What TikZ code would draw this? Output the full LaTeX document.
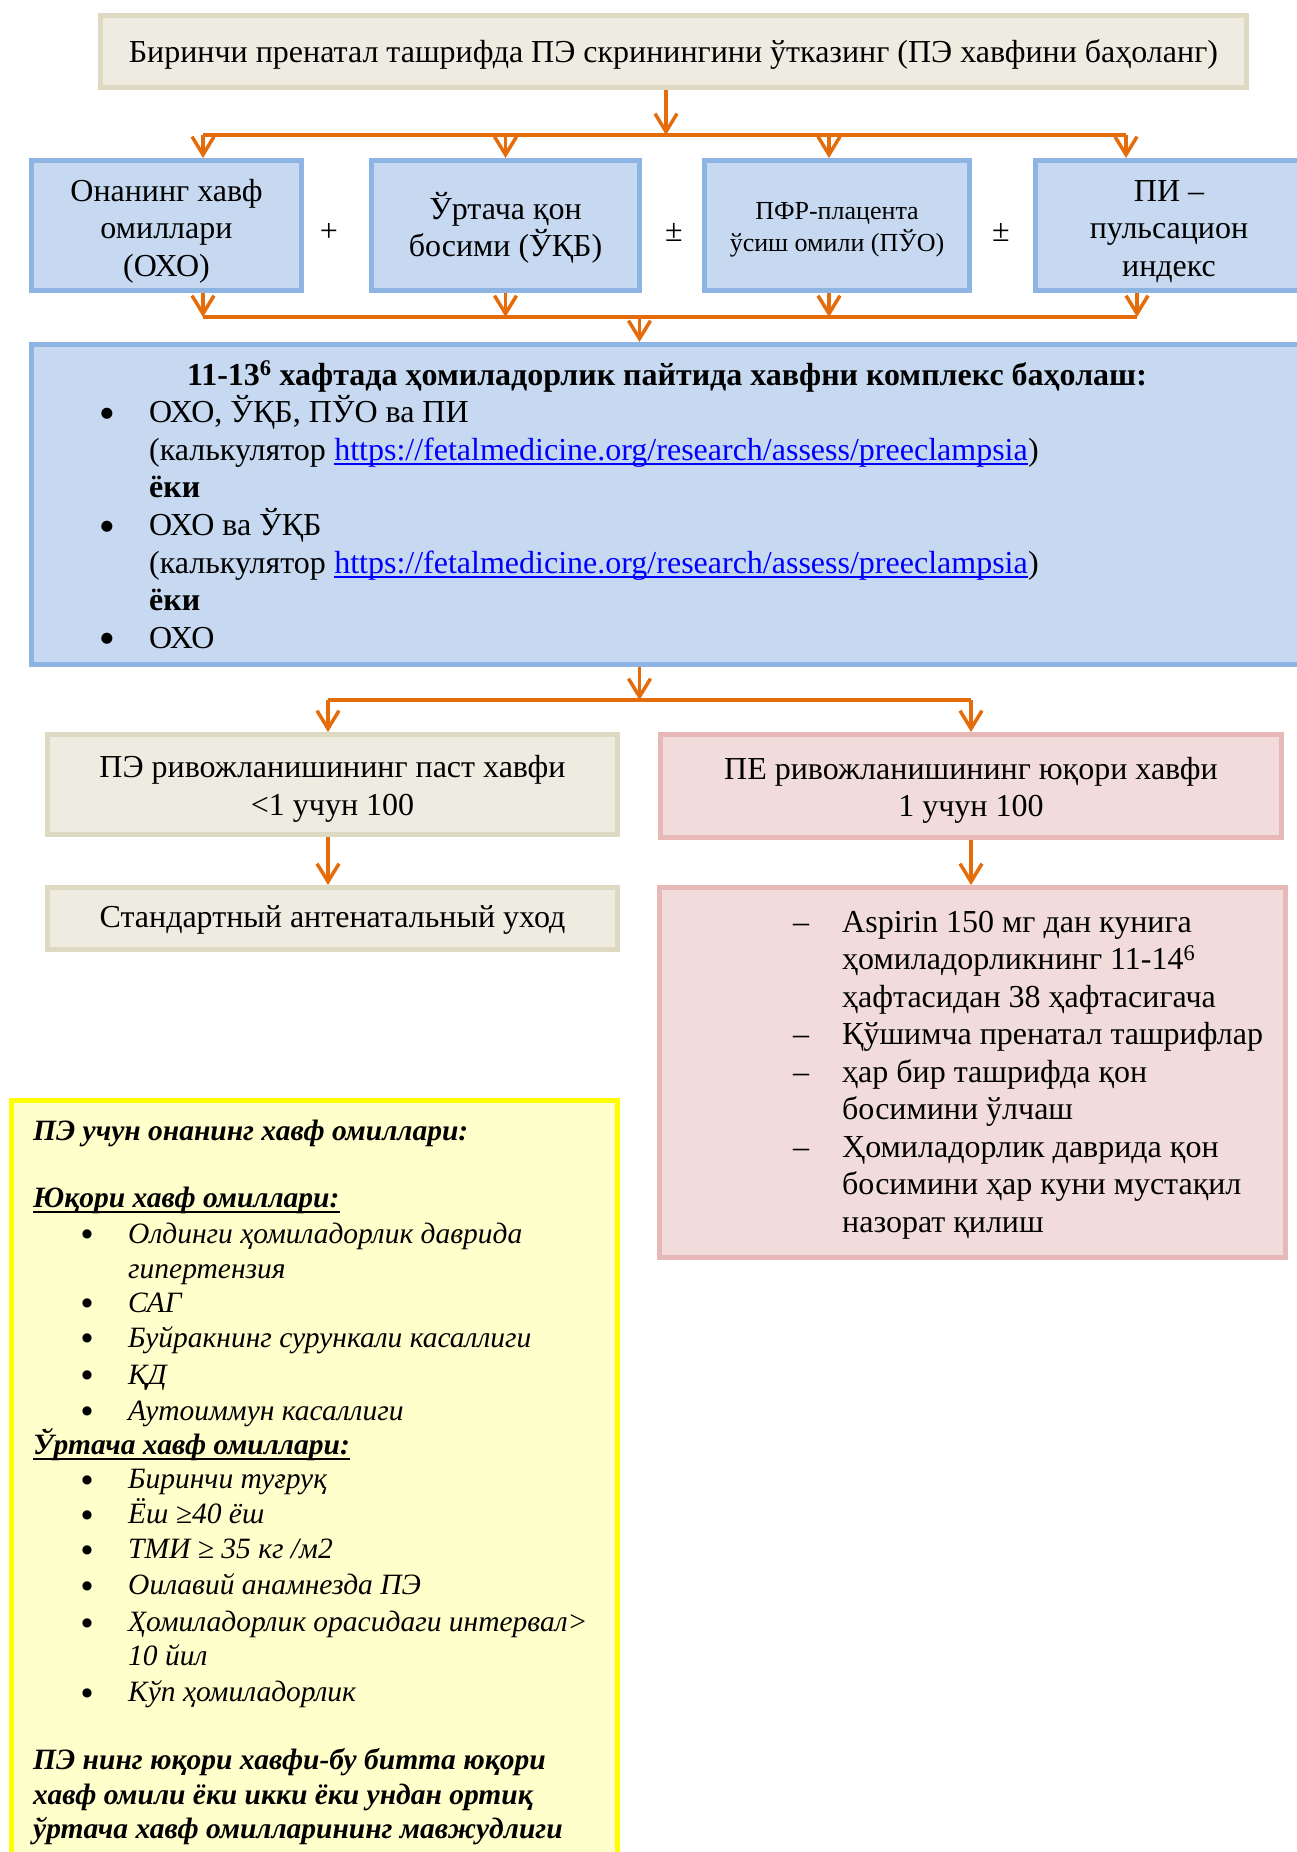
\documentclass[tikz,border=0pt]{standalone}
\usepackage{fontspec}
\setmainfont{Liberation Serif}
\newfontfamily\bulfont{DejaVu Sans}
\usetikzlibrary{arrows.meta,calc}
\definecolor{bluefill}{HTML}{C6D9F1}
\definecolor{blueline}{HTML}{8EB4E3}
\definecolor{beigefill}{HTML}{EEECE1}
\definecolor{beigeline}{HTML}{DDD9C3}
\definecolor{pinkfill}{HTML}{F2DCDB}
\definecolor{pinkline}{HTML}{E6B9B8}
\definecolor{yelfill}{HTML}{FFFFCC}
\definecolor{yelline}{HTML}{FFFF00}
\definecolor{arrcol}{HTML}{E46C0A}
\definecolor{linkcol}{HTML}{0000FF}
\newcommand{\mainsize}{\fontsize{32}{37.5}\selectfont}
\newcommand{\boxthreesize}{\fontsize{26}{32}\selectfont}
\newcommand{\yelsize}{\fontsize{29.5}{35}\selectfont}
\newcommand{\bigbulsize}{\bulfont\fontsize{14.5}{15}\selectfont}
\newcommand{\yelbulsize}{\bulfont\fontsize{12}{13}\selectfont}
\begin{document}
\begin{tikzpicture}[x=1pt,y=-1pt,
  box/.style={draw, line width=5pt, inner sep=0pt},
  bluebox/.style={box, draw=blueline, fill=bluefill},
  beigebox/.style={box, draw=beigeline, fill=beigefill},
  pinkbox/.style={box, draw=pinkline, fill=pinkfill},
  yelbox/.style={box, draw=yelline, fill=yelfill},
  boxtext/.style={inner sep=0pt, align=center, font=\mainsize},
  arr/.style={draw=arrcol, line width=3.5pt, -{Straight Barb[length=18pt,width=22pt]}},
  busline/.style={draw=arrcol, line width=3.5pt},
  txt/.style={inner sep=0pt, anchor=base west, font=\mainsize},
  ctxt/.style={inner sep=0pt, anchor=base, font=\mainsize},
  bigbul/.style={inner sep=0pt, anchor=base, font=\bigbulsize},
  lnktxt/.style={txt, text=linkcol},
  ytxt/.style={inner sep=0pt, anchor=base west, font=\yelsize\itshape},
  yhead/.style={ytxt, font=\yelsize\bfseries\itshape},
  ybul/.style={inner sep=0pt, anchor=base, font=\yelbulsize},
  lnkul/.style={draw=linkcol, line width=1.8pt},
  headul/.style={draw=black, line width=2.6pt},
]
\useasboundingbox (0,0) rectangle (1297,1852);
\clip (0,0) rectangle (1297,1852);

% column coordinates
\coordinate (xa) at (203,0);
\coordinate (xb) at (505.5,0);
\coordinate (xc) at (829,0);
\coordinate (xd) at (1126,0);
\coordinate (xdd) at (1137,0);
\coordinate (xm) at (666,0);
\coordinate (xn) at (639.5,0);
\coordinate (xl) at (328,0);
\coordinate (xr) at (971,0);
\coordinate (busa) at (0,135);
\coordinate (busb) at (0,317);
\coordinate (busc) at (0,700);

% boxes
\node[beigebox, minimum width=1146pt, minimum height=72pt] (top) at (673.5,51.5) {};
\node[boxtext] (topt) at (673.5,54.5)
  {Биринчи пренатал ташрифда ПЭ скринингини ўтказинг (ПЭ хавфини баҳоланг)};
\node[bluebox, minimum width=270pt, minimum height=130pt] (b1) at (166.5,225.5) {};
\node[boxtext] (b1t) at (166.5,231) {Онанинг хавф\\омиллари\\(ОХО)};
\node[bluebox, minimum width=268pt, minimum height=130pt] (b2) at (505.5,225.5) {};
\node[boxtext] (b2t) at (505.5,228) {Ўртача қон\\босими (ЎҚБ)};
\node[bluebox, minimum width=265pt, minimum height=130pt] (b3) at (837,225.5) {};
\node[boxtext, font=\boxthreesize] (b3t) at (837,230) {ПФР-плацента\\ўсиш омили (ПЎО)};
\node[bluebox, minimum width=267pt, minimum height=130pt] (b4) at (1169,225.5) {};
\node[boxtext] (b4t) at (1169,231.5) {ПИ –\\пульсацион\\индекс};
\node[inner sep=0pt, font=\mainsize] (p1) at (329,232) {+};
\node[inner sep=0pt, font=\mainsize] (p2) at (674,232) {±};
\node[inner sep=0pt, font=\mainsize] (p3) at (1001,232) {±};

\node[bluebox, minimum width=1271pt, minimum height=320pt] (big) at (667,504.5) {};
\node[beigebox, minimum width=570pt, minimum height=100pt] (low) at (332.5,784.5) {};
\node[boxtext] (lowt) at (332.5,789) {ПЭ ривожланишининг паст хавфи\\<1 учун 100};
\node[pinkbox, minimum width=621pt, minimum height=103pt] (high) at (971,786) {};
\node[boxtext] (hight) at (971,790.5) {ПЕ ривожланишининг юқори хавфи\\1 учун 100};
\node[beigebox, minimum width=570pt, minimum height=62pt] (std) at (332.5,918.5) {};
\node[boxtext] (stdt) at (332.5,920) {Стандартный антенатальный уход};
\node[pinkbox, minimum width=626pt, minimum height=370pt] (rl) at (972.5,1072.5) {};
\node[yelbox, minimum width=606pt, minimum height=790pt] (yb) at (314.5,1495) {};

% connectors
\draw[arr] (xm |- top.south) -- (xm |- busa);
\draw[busline] (xa |- busa) -- (xd |- busa);
\draw[arr] (xa |- busa) -- (xa |- b1.north);
\draw[arr] (xb |- busa) -- (xb |- b2.north);
\draw[arr] (xc |- busa) -- (xc |- b3.north);
\draw[arr] (xd |- busa) -- (xd |- b4.north);
\draw[arr] (xa |- b1.south) -- (xa |- busb);
\draw[arr] (xb |- b2.south) -- (xb |- busb);
\draw[arr] (xc |- b3.south) -- (xc |- busb);
\draw[arr] (xdd |- b4.south) -- (xdd |- busb);
\draw[busline] (xa |- busb) -- (xdd |- busb);
\draw[arr] (xn |- busb) -- (xn |- big.north);
\draw[arr] (xn |- big.south) -- (xn |- busc);
\draw[busline] (xl |- busc) -- (xr |- busc);
\draw[arr] (xl |- busc) -- (xl |- low.north);
\draw[arr] (xr |- busc) -- (xr |- high.north);
\draw[arr] (xl |- low.south) -- (xl |- std.north);
\draw[arr] (xr |- high.south) -- (xr |- rl.north);

% big box text
\node[ctxt, font=\mainsize\bfseries] (g0) at (667,385) {11-13\textsuperscript{6} хафтада ҳомиладорлик пайтида хавфни комплекс баҳолаш:};
\node[bigbul] (gb1) at (107,417.2) {●};
\node[txt] (g1) at (149,422.6) {ОХО, ЎҚБ, ПЎО ва ПИ};
\node[txt] (g2) at (149,460.2) {(калькулятор};
\node[lnktxt] (g2l) at ($(g2.base east)+(8,0)$) {https://fetalmedicine.org/research/assess/preeclampsia};
\node[txt] (g2r) at (g2l.base east) {)};
\draw[lnkul] ($(g2l.base west)+(0,4)$) -- ($(g2l.base east)+(0,4)$);
\node[txt, font=\mainsize\bfseries] (g3) at (149,497.8) {ёки};
\node[bigbul] (gb2) at (107,530) {●};
\node[txt] (g4) at (149,535.4) {ОХО ва ЎҚБ};
\node[txt] (g5) at (149,573) {(калькулятор};
\node[lnktxt] (g5l) at ($(g5.base east)+(8,0)$) {https://fetalmedicine.org/research/assess/preeclampsia};
\node[txt] (g5r) at (g5l.base east) {)};
\draw[lnkul] ($(g5l.base west)+(0,4)$) -- ($(g5l.base east)+(0,4)$);
\node[txt, font=\mainsize\bfseries] (g6) at (149,610.6) {ёки};
\node[bigbul] (gb3) at (107,642.8) {●};
\node[txt] (g7) at (149,648.2) {ОХО};

% red list text
\node[ctxt] (rd1) at (801,932) {–};
\node[txt] (r1) at (842,932) {Aspirin 150 мг дан кунига};
\node[txt] (r2) at (842,969.5) {ҳомиладорликнинг 11-14\textsuperscript{6}};
\node[txt] (r3) at (842,1007) {ҳафтасидан 38 ҳафтасигача};
\node[ctxt] (rd2) at (801,1044.5) {–};
\node[txt] (r4) at (842,1044.5) {Қўшимча пренатал ташрифлар};
\node[ctxt] (rd3) at (801,1082) {–};
\node[txt] (r5) at (842,1082) {ҳар бир ташрифда қон};
\node[txt] (r6) at (842,1119.5) {босимини ўлчаш};
\node[ctxt] (rd4) at (801,1157) {–};
\node[txt] (r7) at (842,1157) {Ҳомиладорлик даврида қон};
\node[txt] (r8) at (842,1194.5) {босимини ҳар куни мустақил};
\node[txt] (r9) at (842,1232) {назорат қилиш};

% yellow box text
\node[yhead] (y0) at (33,1140) {ПЭ учун онанинг хавф омиллари:};
\node[yhead] (y1) at (33,1207) {Юқори хавф омиллари:};
\draw[headul] ($(y1.base west)+(0,5)$) -- ($(y1.base east)+(0,5)$);
\node[ybul] (yb1) at (87,1237.5) {●};
\node[ytxt] (y2) at (128,1243) {Олдинги ҳомиладорлик даврида};
\node[ytxt] (y3) at (128,1278) {гипертензия};
\node[ybul] (yb2) at (87,1306.5) {●};
\node[ytxt] (y4) at (128,1312) {САГ};
\node[ybul] (yb3) at (87,1341.5) {●};
\node[ytxt] (y5) at (128,1347) {Буйракнинг сурункали касаллиги};
\node[ybul] (yb4) at (87,1378.5) {●};
\node[ytxt] (y6) at (128,1384) {ҚД};
\node[ybul] (yb5) at (87,1414.5) {●};
\node[ytxt] (y7) at (128,1420) {Аутоиммун касаллиги};
\node[yhead] (y8) at (33,1454) {Ўртача хавф омиллари:};
\draw[headul] ($(y8.base west)+(0,5)$) -- ($(y8.base east)+(0,5)$);
\node[ybul] (yb6) at (87,1483) {●};
\node[ytxt] (y9) at (128,1488.5) {Биринчи туғруқ};
\node[ybul] (yb7) at (87,1518) {●};
\node[ytxt] (y10) at (128,1523.5) {Ёш ≥40 ёш};
\node[ybul] (yb8) at (87,1553) {●};
\node[ytxt] (y11) at (128,1558.5) {ТМИ ≥ 35 кг /м2};
\node[ybul] (yb9) at (87,1589) {●};
\node[ytxt] (y12) at (128,1594.5) {Оилавий анамнезда ПЭ};
\node[ybul] (yb10) at (87,1626) {●};
\node[ytxt] (y13) at (128,1631.5) {Ҳомиладорлик орасидаги интервал>};
\node[ytxt] (y14) at (128,1665.5) {10 йил};
\node[ybul] (yb11) at (87,1696) {●};
\node[ytxt] (y15) at (128,1701.5) {Кўп ҳомиладорлик};
\node[yhead] (y16) at (33,1769) {ПЭ нинг юқори хавфи-бу битта юқори};
\node[yhead] (y17) at (33,1804) {хавф омили ёки икки ёки ундан ортиқ};
\node[yhead] (y18) at (33,1838) {ўртача хавф омилларининг мавжудлиги};
\end{tikzpicture}
\end{document}
